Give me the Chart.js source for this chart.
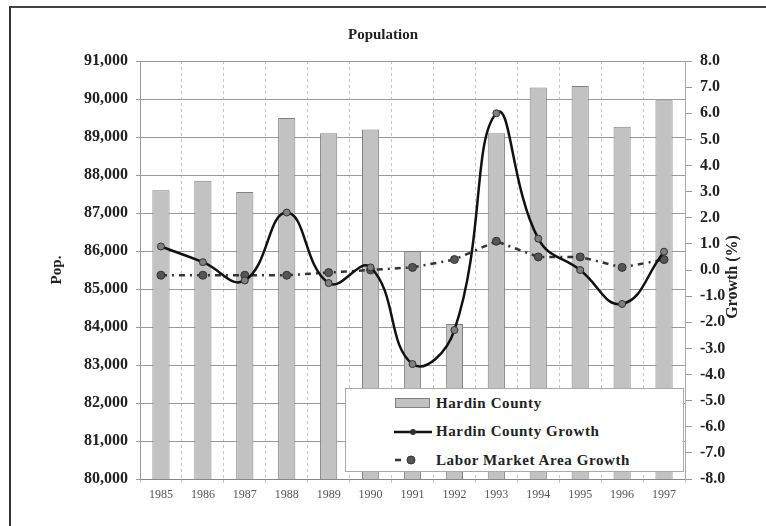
<!DOCTYPE html>
<html>
<head>
<meta charset="utf-8">
<script src="https://cdn.jsdelivr.net/npm/chart.js@4"></script>
<style>
  html, body { margin: 0; padding: 0; background: #fff; }
  #wrap { position: relative; width: 766px; height: 526px; overflow: hidden; }
  #frame {
    position: absolute; left: 9px; top: 6px; width: 800px; height: 600px;
    border-left: 2px solid #333; border-top: 2px solid #444; pointer-events: none;
  }
  #legend {
    position: absolute; left: 345px; top: 388px; width: 339px; height: 84px;
    background: #fff; border: 1px solid #aaa; box-sizing: border-box;
    font: bold 15px "Liberation Serif", serif; color: #222; letter-spacing: 0.6px;
    padding-top: 0;
  }
  #legend .row { display: flex; align-items: center; height: 28.5px; padding-left: 48px; }
  #legend svg { width: 40px; height: 14px; margin-right: 2px; flex: none; }
</style>
</head>
<body>
<div id="wrap">
  <canvas id="popChart" width="766" height="526"></canvas>
  <div id="frame"></div>
  <div id="legend"></div>
</div>
<script>
// ===============================
// DATA
// ===============================
const years = ["1985", "1986", "1987", "1988", "1989", "1990", "1991",
               "1992", "1993", "1994", "1995", "1996", "1997"];
const hardinPop = [87600, 87850, 87550, 89500, 89100, 89200, 86000,
                   84080, 89100, 90300, 90340, 89270, 89970];
const hardinGrowth = [0.9, 0.3, -0.4, 2.2, -0.5, 0.1, -3.6, -2.3, 6.0, 1.2, 0.0, -1.3, 0.7];
const laborGrowth = [-0.2, -0.2, -0.2, -0.2, -0.1, 0.0, 0.1, 0.4, 1.1, 0.5, 0.5, 0.1, 0.4];

const popTicks = { min: 80000, max: 91000, step: 1000 };
const growthTicks = { min: -8, max: 8, step: 1 };

const SERIF = "'Liberation Serif', 'Times New Roman', serif";

// right axis title reads bottom-to-top, so draw it by hand
const growthTitle = {
  id: "growthTitle",
  afterDraw(chart) {
    const ctx = chart.ctx;
    const s = chart.scales.y1;
    ctx.save();
    ctx.translate(s.left + 48, (s.top + s.bottom) / 2 + 7);
    ctx.rotate(-Math.PI / 2);
    ctx.font = "bold 16px " + SERIF;
    ctx.fillStyle = "#222";
    ctx.textAlign = "center";
    ctx.textBaseline = "middle";
    ctx.fillText("Growth (%)", 0, 0);
    ctx.restore();
  }
};

const chart = new Chart(document.getElementById("popChart"), {
  data: {
    labels: years,
    datasets: [
      {
        type: "line",
        label: "Hardin County Growth",
        data: hardinGrowth,
        yAxisID: "y1",
        borderColor: "#111",
        borderWidth: 2.5,
        tension: 0.45,
        pointRadius: 3.5,
        pointBackgroundColor: "#808080",
        pointBorderColor: "#333",
        pointBorderWidth: 1,
        order: 1
      },
      {
        type: "line",
        label: "Labor Market Area Growth",
        data: laborGrowth,
        yAxisID: "y1",
        borderColor: "#333",
        borderWidth: 2.5,
        borderDash: [6, 5, 2, 5],
        tension: 0,
        pointRadius: 4,
        pointBackgroundColor: "#555",
        pointBorderColor: "#333",
        pointBorderWidth: 1,
        order: 2
      },
      {
        type: "bar",
        label: "Hardin County",
        data: hardinPop,
        yAxisID: "y",
        backgroundColor: "#c2c2c2",
        borderColor: "#808080",
        borderWidth: 1,
        barPercentage: 0.41,
        categoryPercentage: 1,
        order: 3
      }
    ]
  },
  options: {
    responsive: false,
    animation: false,
    layout: { padding: 0 },
    plugins: {
      legend: { display: false },
      tooltip: { enabled: false },
      title: {
        display: true,
        text: "Population",
        color: "#222",
        font: { family: SERIF, size: 15, weight: "bold" },
        padding: { top: 26, bottom: 17 }
      }
    },
    scales: {
      x: {
        grid: { color: "#c4c4c4", tickLength: 4, offset: true },
        border: { color: "#888", dash: [3, 3] },
        ticks: { color: "#555", padding: 5, font: { family: SERIF, size: 12 } },
        afterFit(s) { s.height = 47; }
      },
      y: {
        position: "left",
        min: popTicks.min,
        max: popTicks.max,
        grid: { color: "#9a9a9a", tickLength: 4 },
        border: { color: "#999" },
        ticks: {
          stepSize: popTicks.step,
          color: "#222",
          padding: 8,
          font: { family: SERIF, size: 16, weight: "bold" },
          callback: v => v.toLocaleString("en-US")
        },
        title: {
          display: true,
          text: "Pop.",
          color: "#222",
          font: { family: SERIF, size: 15, weight: "bold" },
          padding: { top: 48, bottom: 0 }
        },
        afterFit(s) { s.width = 140; }
      },
      y1: {
        position: "right",
        min: growthTicks.min,
        max: growthTicks.max,
        grid: { drawOnChartArea: false, color: "#999", tickLength: 7 },
        border: { color: "#aaa" },
        ticks: {
          stepSize: growthTicks.step,
          color: "#222",
          padding: 8,
          font: { family: SERIF, size: 16, weight: "bold" },
          callback: v => Number(v).toFixed(1)
        },
        afterFit(s) { s.width = 81; }
      }
    }
  },
  plugins: [growthTitle]
});

// ===============================
// LEGEND (html, inside the plot)
// ===============================
const legendEl = document.getElementById("legend");
const legendOrder = [2, 0, 1];
legendOrder.forEach(i => {
  const ds = chart.data.datasets[i];
  const row = document.createElement("div");
  row.className = "row";
  let svg;
  if (ds.type === "bar") {
    svg = `<svg viewBox="0 0 40 14"><rect x="1.5" y="2.5" width="34" height="9" fill="${ds.backgroundColor}" stroke="${ds.borderColor}"/></svg>`;
  } else if (ds.borderDash) {
    svg = `<svg viewBox="0 0 40 14"><line x1="1" y1="7" x2="7" y2="7" stroke="${ds.borderColor}" stroke-width="2.5"/><circle cx="17" cy="7" r="4" fill="${ds.pointBackgroundColor}" stroke="${ds.pointBorderColor}"/></svg>`;
  } else {
    svg = `<svg viewBox="0 0 40 14"><line x1="0" y1="7" x2="38" y2="7" stroke="${ds.borderColor}" stroke-width="2.5"/><circle cx="19" cy="7" r="3" fill="${ds.pointBorderColor}"/></svg>`;
  }
  row.innerHTML = svg + `<span>${ds.label}</span>`;
  legendEl.appendChild(row);
});
</script>
</body>
</html>
